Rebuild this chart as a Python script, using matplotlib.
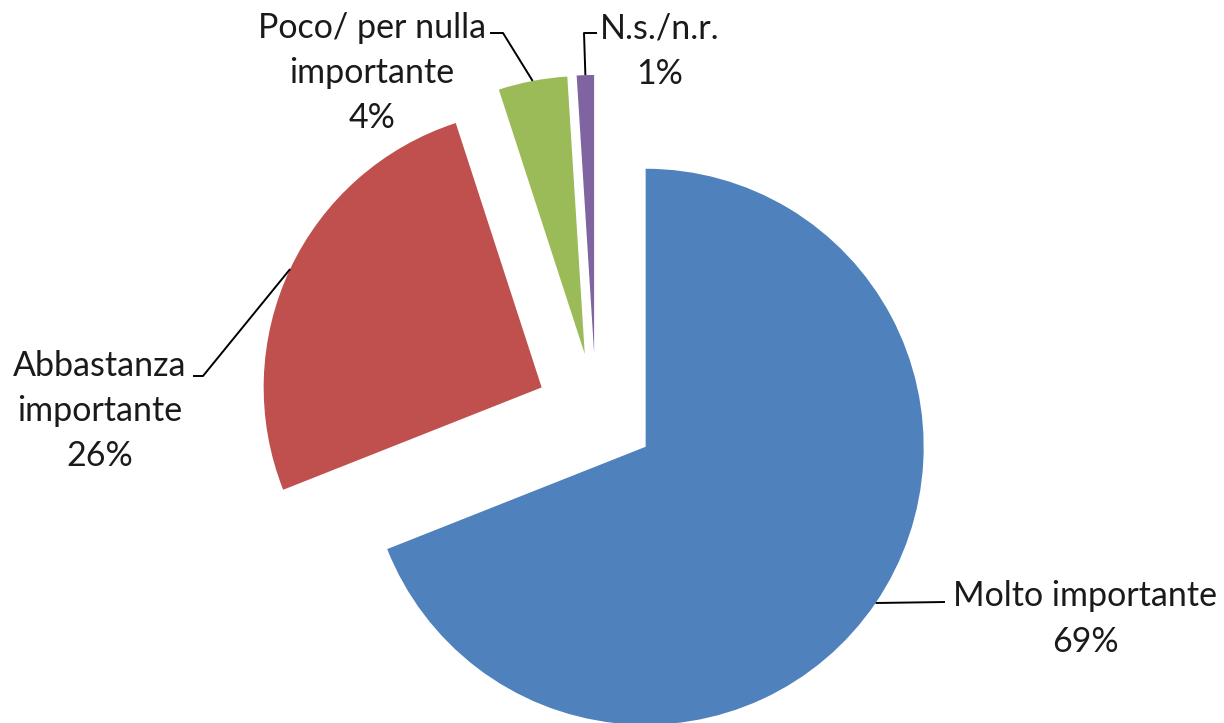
import numpy as np
import matplotlib
matplotlib.use("Agg")
import matplotlib.pyplot as plt

# data
labels = ["Molto importante", "Abbastanza\nimportante", "Poco/ per nulla\nimportante", "N.s./n.r."]
values = [69, 26, 4, 1]
colors = ["#4F81BD", "#C0504D", "#9BBB59", "#8064A2"]
explode = [0.216, 0.216, 0.216, 0.216]

plt.rcParams['font.family'] = ['Lato', 'DejaVu Sans']

W, H = 1224, 723
cx, cy, R = 596, 413, 278   # pie centre / radius in pixels


def px(x, y):
    """pixel -> data coords"""
    return (x - cx) / R, (cy - y) / R


fig = plt.figure(figsize=(W / 100, H / 100), dpi=100)
ax = fig.add_axes([0, 0, 1, 1])

wedges, _ = ax.pie(values, colors=colors, explode=explode, startangle=90,
                   counterclock=False, radius=1, center=(0, 0), frame=True,
                   wedgeprops=dict(linewidth=0))
ax.set_xlim(px(0, 0)[0], px(W, 0)[0])
ax.set_ylim(px(0, H)[1], px(0, 0)[1])
ax.set_aspect('equal')
ax.axis('off')

# label layout: text centre (px), end of leader (px), bend of leader (px)
text_pos = [(1085, 619), (100, 411), (372, 73), (660, 51)]
elbows = [(945, 602), (193, 376), (490, 33), (597, 33)]
bends = [None, (203, 376), (503, 33), (584, 33)]

for w, v, lab, tp, el, bd in zip(wedges, values, labels, text_pos, elbows, bends):
    mid = np.deg2rad((w.theta1 + w.theta2) / 2)
    ox, oy = w.center
    pts = [(ox + np.cos(mid), oy + np.sin(mid))]
    if bd is not None:
        pts.append(px(*bd))
    pts.append(px(*el))
    xs, ys = zip(*pts)
    ax.plot(xs, ys, color='black', lw=1.4, solid_capstyle='butt')
    tx, ty = px(*tp)
    ax.text(tx, ty, f"{lab}\n{v}%", ha='center', va='center', fontsize=24.5,
            linespacing=1.5, color='#1a1a1a')

fig.savefig("out.png", dpi=100, facecolor='white')
